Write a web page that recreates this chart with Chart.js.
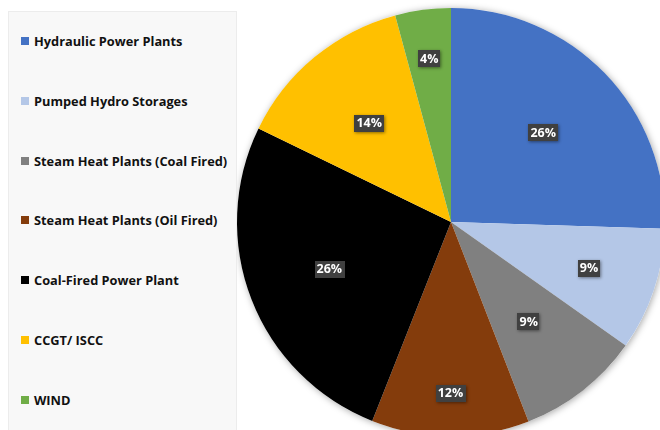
<!DOCTYPE html>
<html>
<head>
<meta charset="utf-8">
<script src="https://cdn.jsdelivr.net/npm/chart.js@4.4.0/dist/chart.umd.min.js"></script>
<style>
  html, body { margin: 0; padding: 0; background: #fff; overflow: hidden; }
  #wrap { position: relative; width: 660px; height: 430px; overflow: hidden; }
  #mainChart { position: absolute; left: 0; top: 0; }
  #legend {
    position: absolute; left: 8px; top: 11px; width: 229px; height: 430px;
    background: #f8f8f8; border: 1px solid #ececec; box-sizing: border-box;
    font-family: "Open Sans", sans-serif; font-weight: 700; font-size: 12.8px; color: #111;
  }
  .legend-item { position: absolute; left: 12px; height: 16px; display: flex; align-items: center; white-space: nowrap; }
  .legend-item span.box { width: 8px; height: 8px; margin-right: 5px; display: inline-block; }
</style>
</head>
<body>
<div id="wrap">
  <canvas id="mainChart" width="680" height="440"></canvas>
  <div id="legend"></div>
</div>
<script>
const labels = [
  "Hydraulic Power Plants",
  "Pumped Hydro Storages",
  "Steam Heat Plants (Coal Fired)",
  "Steam Heat Plants (Oil Fired)",
  "Coal-Fired Power Plant",
  "CCGT/ ISCC",
  "WIND",
];
const shares = [25.5, 9.3, 9.3, 11.9, 26.2, 13.6, 4.2];

const colors = ["#4472c4", "#b4c7e7", "#808080", "#843c0c", "#000000", "#ffc000", "#70ad47"];

// distance of each percentage tag from the centre, as a fraction of the radius
const labelRadii = [0.6, 0.68, 0.59, 0.8, 0.61, 0.6, 0.77];

// soft shadow behind the whole pie
const pieShadow = {
  id: "pieShadow",
  beforeDatasetsDraw(chart) {
    const arc = chart.getDatasetMeta(0).data[0];
    if (!arc) return;
    const ctx = chart.ctx;
    ctx.save();
    ctx.shadowColor = "rgba(0,0,0,0.35)";
    ctx.shadowBlur = 7;
    ctx.shadowOffsetX = 1;
    ctx.shadowOffsetY = 1;
    ctx.fillStyle = "#fff";
    ctx.beginPath();
    ctx.arc(arc.x, arc.y, arc.outerRadius, 0, Math.PI * 2);
    ctx.fill();
    ctx.restore();
  },
};

// dark percentage tags on each slice
const percentTags = {
  id: "percentTags",
  afterDatasetsDraw(chart) {
    const ctx = chart.ctx;
    const data = chart.data.datasets[0].data;
    const total = data.reduce((a, b) => a + b, 0);
    ctx.save();
    ctx.font = "bold 12.5px 'Open Sans', sans-serif";
    ctx.textAlign = "center";
    ctx.textBaseline = "middle";
    chart.getDatasetMeta(0).data.forEach((arc, i) => {
      const mid = (arc.startAngle + arc.endAngle) / 2;
      const r = arc.outerRadius * labelRadii[i];
      const x = arc.x + Math.cos(mid) * r;
      const y = arc.y + Math.sin(mid) * r;
      const text = Math.round((data[i] / total) * 100) + "%";
      const w = ctx.measureText(text).width + 4;
      const h = 17;
      ctx.shadowColor = "rgba(0,0,0,0.45)";
      ctx.shadowBlur = 3;
      ctx.shadowOffsetX = 1;
      ctx.shadowOffsetY = 1;
      ctx.fillStyle = "#404040";
      ctx.fillRect(Math.round(x - w / 2), Math.round(y - h / 2), Math.round(w), h);
      ctx.shadowColor = "transparent";
      ctx.fillStyle = "#fff";
      ctx.fillText(text, x, y + 0.5);
    });
    ctx.restore();
  },
};

function createLegend() {
  const legend = document.getElementById("legend");
  legend.innerHTML = labels
    .map(
      (label, i) =>
        `<div class="legend-item" style="top:${21 + i * 59.8}px"><span class="box" style="background:${colors[i]}"></span>${label}</div>`
    )
    .join("");
}

function initChart() {
  const ctx = document.getElementById("mainChart").getContext("2d");
  new Chart(ctx, {
    type: "pie",
    data: {
      labels: labels,
      datasets: [
        {
          data: shares,
          backgroundColor: colors,
          borderWidth: 0,
        },
      ],
    },
    options: {
      responsive: false,
      animation: false,
      devicePixelRatio: 1,
      radius: 214,
      layout: { padding: { left: 237, right: 15, top: 8, bottom: 4 } },
      plugins: {
        legend: { display: false },
        tooltip: { enabled: false },
      },
    },
    plugins: [pieShadow, percentTags],
  });
}

createLegend();
initChart();
</script>
</body>
</html>
